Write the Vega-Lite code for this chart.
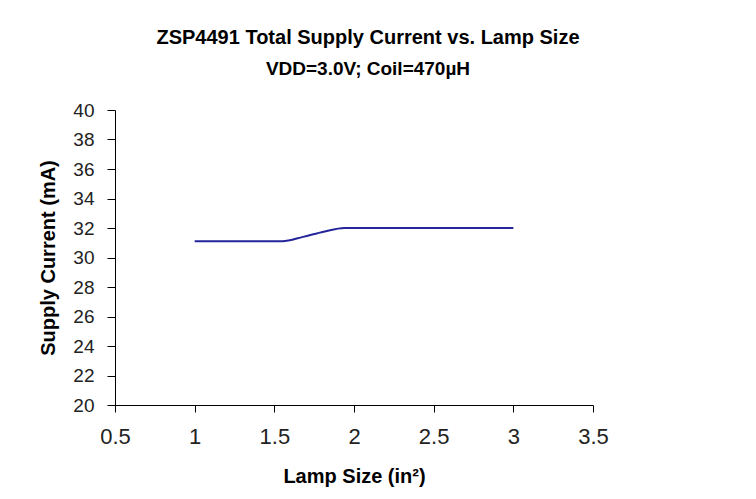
{
  "$schema": "https://vega.github.io/schema/vega-lite/v6.json",
  "width": 478,
  "height": 295,
  "autosize": {"type": "none"},
  "padding": {"left": 115, "top": 110, "right": 163, "bottom": 94},
  "background": "white",
  "config": {
    "view": {"stroke": null},
    "font": "Liberation Sans"
  },
  "title": {
    "text": "ZSP4491 Total Supply Current vs. Lamp Size",
    "subtitle": "VDD=3.0V; Coil=470µH",
    "font": "Liberation Sans",
    "subtitleFont": "Liberation Sans",
    "fontSize": 20,
    "fontWeight": "bold",
    "subtitleFontSize": 19,
    "subtitleFontWeight": "bold",
    "subtitleColor": "black",
    "color": "black",
    "subtitlePadding": 12,
    "anchor": "middle",
    "dx": 14,
    "offset": 22
  },
  "data": {
    "values": [
      {"size": 1.0, "current": 31.1},
      {"size": 1.3, "current": 31.1},
      {"size": 1.55, "current": 31.1},
      {"size": 1.68, "current": 31.4},
      {"size": 1.81, "current": 31.75},
      {"size": 1.94, "current": 32.0},
      {"size": 2.5, "current": 32.0},
      {"size": 3.0, "current": 32.0}
    ]
  },
  "mark": {"type": "line", "color": "#25259a", "strokeWidth": 2, "interpolate": "monotone"},
  "encoding": {
    "x": {
      "field": "size",
      "type": "quantitative",
      "scale": {"domain": [0.5, 3.5], "nice": false, "zero": false},
      "axis": {
        "title": "Lamp Size (in²)",
        "values": [0.5, 1, 1.5, 2, 2.5, 3, 3.5],
        "format": "~g",
        "grid": false,
        "domainColor": "black",
        "tickColor": "black",
        "tickSize": 7,
        "labelFontSize": 22,
        "labelColor": "#222",
        "labelPadding": 14,
        "labelFlush": false,
        "titleFontSize": 20,
        "titleFontWeight": "bold",
        "titleColor": "black",
        "titlePadding": 19
      }
    },
    "y": {
      "field": "current",
      "type": "quantitative",
      "scale": {"domain": [20, 40], "nice": false, "zero": false},
      "axis": {
        "title": "Supply Current (mA)",
        "values": [20, 22, 24, 26, 28, 30, 32, 34, 36, 38, 40],
        "grid": false,
        "domainColor": "black",
        "tickColor": "black",
        "tickSize": 8,
        "labelFontSize": 19,
        "labelColor": "#222",
        "labelPadding": 13,
        "labelFlush": false,
        "labelOverlap": false,
        "titleFontSize": 20,
        "titleFontWeight": "bold",
        "titleColor": "black",
        "titlePadding": 14
      }
    }
  }
}
